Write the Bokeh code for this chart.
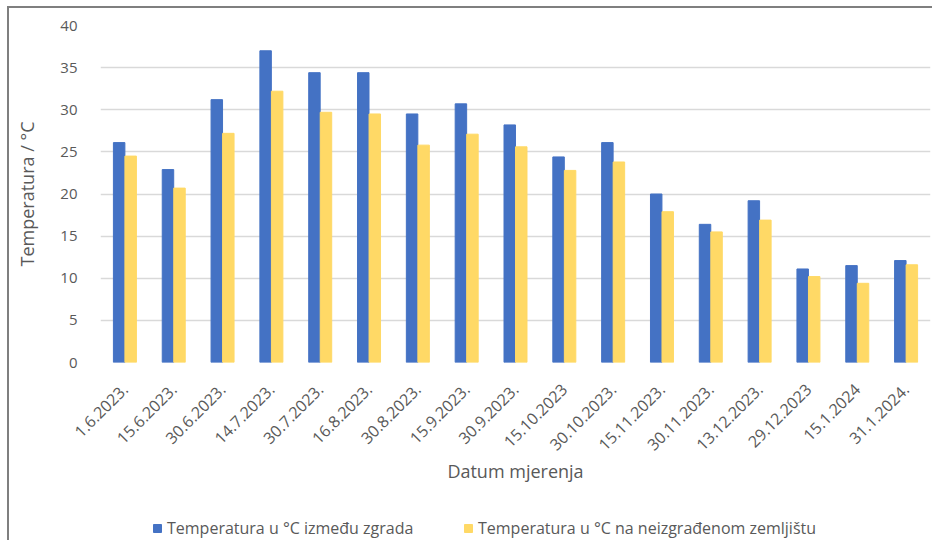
import math
from bokeh.plotting import figure
from bokeh.layouts import column
from bokeh.models import FactorRange, Range1d, Legend, LegendItem, ColumnDataSource, SingleIntervalTicker
from bokeh.transform import dodge
from bokeh.embed import file_html
from bokeh.resources import INLINE

dates = ["1.6.2023.", "15.6.2023.", "30.6.2023.", "14.7.2023.", "30.7.2023.", "16.8.2023.",
         "30.8.2023.", "15.9.2023.", "30.9.2023.", "15.10.2023", "30.10.2023.", "15.11.2023.",
         "30.11.2023.", "13.12.2023.", "29.12.2023", "15.1.2024", "31.1.2024."]
between_buildings = [26.1, 22.9, 31.2, 37.0, 34.4, 34.4, 29.5, 30.7, 28.2, 24.4, 26.1, 20.0,
                     16.4, 19.2, 11.1, 11.5, 12.1]
open_land = [24.5, 20.7, 27.2, 32.2, 29.7, 29.5, 25.8, 27.1, 25.6, 22.8, 23.8, 17.9,
             15.5, 16.9, 10.2, 9.4, 11.6]
series_names = ["Temperatura u °C između zgrada", "Temperatura u °C na neizgrađenom zemljištu"]
y_title = "Temperatura / °C"
x_title = "Datum mjerenja"

FONT = "Open Sans"
GRAY = "#595959"
BLUE = "#4472C4"
YELLOW = "#FFD966"

src = ColumnDataSource(dict(d=dates, a=between_buildings, b=open_land))

# main chart
p = figure(x_range=FactorRange(*dates, range_padding=0), y_range=Range1d(0, 40),
           width=923, height=500, output_backend="svg", toolbar_location=None,
           min_border_left=91, min_border_right=2, min_border_top=17, min_border_bottom=146)
p.outline_line_color = None
p.background_fill_color = "white"
p.border_fill_color = "white"

p.vbar(x=dodge("d", -0.118, range=p.x_range), top="a", width=0.235, source=src,
       fill_color=BLUE, line_color=BLUE)
p.vbar(x=dodge("d", 0.118, range=p.x_range), top="b", width=0.235, source=src,
       fill_color=YELLOW, line_color=YELLOW)

p.yaxis.ticker = SingleIntervalTicker(interval=5)
p.ygrid.grid_line_color = "#d9d9d9"
p.ygrid.grid_line_width = 1.5
p.xgrid.grid_line_color = None

for ax in (p.xaxis, p.yaxis):
    ax.axis_line_color = None
    ax.major_tick_line_color = None
    ax.minor_tick_line_color = None
    ax.major_label_text_font = FONT
    ax.major_label_text_color = GRAY
    ax.axis_label_text_font = FONT
    ax.axis_label_text_font_size = "18px"
    ax.axis_label_text_color = GRAY
    ax.axis_label_text_font_style = "normal"

p.yaxis.major_label_text_font_size = "15px"
p.xaxis.major_label_text_font_size = "16px"
p.yaxis.axis_label = y_title
p.yaxis.major_label_standoff = 17
p.yaxis.axis_label_standoff = 18
p.xaxis.axis_label = x_title
p.xaxis.major_label_orientation = math.pi / 4
p.xaxis.major_label_standoff = 18
p.xaxis.axis_label_standoff = 0

# legend strip below the chart (its frame is aligned with the chart's frame)
lp = figure(x_range=p.x_range, y_range=Range1d(1000, 2000), width=923, height=32,
            output_backend="svg", toolbar_location=None,
            min_border_left=0, min_border_right=0, min_border_top=0, min_border_bottom=0)
lp.axis.visible = False
lp.grid.grid_line_color = None
lp.outline_line_color = None
lp.background_fill_color = "white"
lp.border_fill_color = "white"
k1 = lp.vbar(x="d", top="a", width=0.235, source=src, fill_color=BLUE, line_color=BLUE)
k2 = lp.vbar(x="d", top="b", width=0.235, source=src, fill_color=YELLOW, line_color=YELLOW)

for r, name, xloc in ((k1, series_names[0], 52), (k2, series_names[1], 363)):
    lg = Legend(items=[LegendItem(label=name, renderers=[r])], location=(xloc, 1),
                orientation="horizontal", padding=0, margin=0, spacing=0,
                glyph_width=10, glyph_height=10, label_standoff=5, label_height=20,
                label_text_font=FONT, label_text_font_size="16px", label_text_color=GRAY,
                border_line_color=None, background_fill_alpha=0)
    lp.add_layout(lg, "center")

layout = column(p, lp, spacing=0)
layout.styles = {"border-left": "2px solid #7f7f7f", "border-top": "2px solid #7f7f7f",
                 "margin-left": "7px", "margin-top": "6px"}

open("out.html", "w").write(file_html(layout, INLINE))
